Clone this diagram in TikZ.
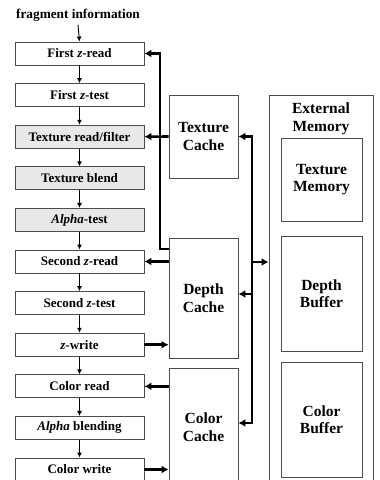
\documentclass[tikz,border=0pt]{standalone}
\usepackage{fontspec}
\setmainfont{Liberation Serif}
\usetikzlibrary{arrows.meta}
\begin{document}
\begin{tikzpicture}[x=1pt,y=-1pt,
  stage/.style={draw=black!70,line width=0.9pt,minimum width=129pt,minimum height=23pt,
    inner sep=0pt,font=\fontsize{13}{15}\selectfont\bfseries,fill=white},
  gstage/.style={stage,fill=black!9},
  store/.style={draw=black!70,line width=0.9pt,inner sep=0pt,align=center,
    font=\fontsize{15.5}{17.5}\selectfont\bfseries,fill=white},
  flow/.style={line width=0.9pt,-{Latex[length=5pt,width=5pt]}},
  bus/.style={line width=2.6pt,-{Latex[length=7pt,width=8pt]}},
  busboth/.style={line width=2.6pt,{Latex[length=7pt,width=8pt]}-{Latex[length=7pt,width=8pt]}}]
\clip (0,0) rectangle (380,480);
\fill[white] (0,0) rectangle (380,480);

% pipeline stages
\node[font=\fontsize{13.3}{15}\selectfont\bfseries] (fi) at (78,15) {fragment information};
\node[stage]  (b1)  at (79.5,53.5)  {First \textit{z}-read};
\node[stage]  (b2)  at (79.5,95.1)  {First \textit{z}-test};
\node[gstage] (b3)  at (79.5,136.7) {Texture read/filter};
\node[gstage] (b4)  at (79.5,178.3) {Texture blend};
\node[gstage] (b5)  at (79.5,219.9) {\textit{Alpha}-test};
\node[stage]  (b6)  at (79.5,261.5) {Second \textit{z}-read};
\node[stage]  (b7)  at (79.5,303.1) {Second \textit{z}-test};
\node[stage]  (b8)  at (79.5,344.7) {\textit{z}-write};
\node[stage]  (b9)  at (79.5,386.3) {Color read};
\node[stage]  (b10) at (79.5,427.9) {\textit{Alpha} blending};
\node[stage]  (b11) at (79.5,469.5) {Color write};

\draw[flow] (fi.south) -- (b1.north);
\foreach \a/\b in {b1/b2,b2/b3,b3/b4,b4/b5,b5/b6,b6/b7,b7/b8,b8/b9,b9/b10,b10/b11}
  \draw[flow] (\a.south) -- (\b.north);

% on-chip caches
\node[store,minimum width=69pt,minimum height=83pt]  (tc) at (203.5,136.5) {Texture\\Cache};
\node[store,minimum width=69pt,minimum height=120pt] (dc) at (203.5,298)   {Depth\\Cache};
\node[store,minimum width=69pt,minimum height=118pt] (cc) at (203.5,427)   {Color\\Cache};

% external memory
\node[draw=black!70,line width=0.9pt,minimum width=104pt,minimum height=395pt,inner sep=0pt] (em) at (321,292.5) {};
\node[font=\fontsize{15.5}{17.5}\selectfont\bfseries,align=center] (emt) at (321,119) {External\\Memory};
\node[store,minimum width=81pt,minimum height=83pt]  (tm) at (321.5,179.5) {Texture\\Memory};
\node[store,minimum width=81pt,minimum height=115pt] (db) at (321.5,293.5) {Depth\\Buffer};
\node[store,minimum width=81pt,minimum height=115pt] (cb) at (321.5,419.5) {Color\\Buffer};

% buses between stages and caches
\coordinate (jA) at (160,249);
\draw[bus] (jA -| dc.west) -- (jA) |- (b1.east);
\draw[bus] (tc.west) -- (b3.east);
\draw[bus] (dc.west |- b6.east) -- (b6.east);
\draw[bus] (b8.east) -- (dc.west |- b8.east);
\draw[bus] (cc.west |- b9.east) -- (b9.east);
\draw[bus] (b11.east) -- (cc.west |- b11.east);

% memory bus
\coordinate (jB) at (252,423);
\coordinate (jD) at (252,294);
\coordinate (jE) at (252,262);
\draw[busboth] (tc.east) -| (jB) -- (cc.east |- jB);
\draw[bus] (jD) -- (dc.east |- jD);
\draw[bus] (jE) -- (em.west |- jE);
\end{tikzpicture}
\end{document}
